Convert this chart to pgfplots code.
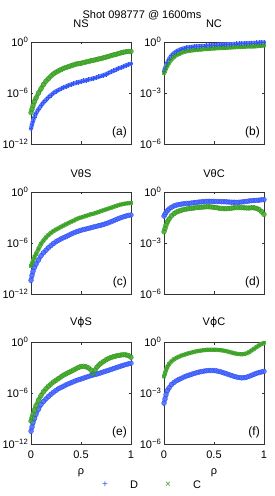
\documentclass[border=0pt]{standalone}
\usepackage{pgfplots}
\usepackage{pgfplotstable}
\pgfplotsset{compat=1.18}
\usepackage{fontspec}
\setmainfont{Liberation Sans}
\newfontfamily\dv{DejaVu Sans}
\definecolor{bD}{RGB}{50,85,250}
\definecolor{gC}{RGB}{50,158,25}

% log10 of the plotted quantities
\pgfplotstableread{
r D C
0 -10.2 -8.3
0.01 -9.7 -7.9
0.02 -9.3 -7.5
0.035 -8.8 -7.0
0.05 -8.4 -6.6
0.075 -7.9 -6.0
0.1 -7.5 -5.5
0.125 -7.1 -5.0
0.15 -6.8 -4.6
0.175 -6.5 -4.3
0.2 -6.25 -4.0
0.225 -6.0 -3.75
0.25 -5.8 -3.55
0.275 -5.65 -3.4
0.3 -5.5 -3.25
0.325 -5.35 -3.1
0.35 -5.25 -3.0
0.375 -5.1 -2.9
0.4 -5.0 -2.8
0.425 -4.9 -2.7
0.45 -4.8 -2.6
0.475 -4.72 -2.55
0.5 -4.65 -2.5
0.525 -4.57 -2.42
0.55 -4.5 -2.35
0.575 -4.43 -2.3
0.6 -4.35 -2.2
0.625 -4.27 -2.15
0.65 -4.2 -2.08
0.675 -4.1 -2.0
0.7 -4.0 -1.95
0.725 -3.9 -1.85
0.75 -3.8 -1.78
0.775 -3.65 -1.7
0.8 -3.5 -1.6
0.825 -3.4 -1.52
0.85 -3.25 -1.45
0.875 -3.1 -1.35
0.9 -3.0 -1.28
0.925 -2.9 -1.2
0.95 -2.75 -1.15
0.975 -2.65 -1.12
1 -2.55 -1.1
}\tA

\pgfplotstableread{
r D C
0 -1.73 -1.83
0.01 -1.55 -1.7
0.02 -1.4 -1.55
0.035 -1.2 -1.38
0.05 -1.0 -1.22
0.075 -0.8 -1.02
0.1 -0.65 -0.87
0.125 -0.55 -0.77
0.15 -0.47 -0.7
0.175 -0.41 -0.63
0.2 -0.37 -0.58
0.225 -0.33 -0.55
0.25 -0.31 -0.52
0.275 -0.29 -0.5
0.3 -0.27 -0.48
0.325 -0.26 -0.46
0.35 -0.25 -0.45
0.375 -0.24 -0.44
0.4 -0.23 -0.42
0.425 -0.22 -0.41
0.45 -0.21 -0.4
0.475 -0.2 -0.39
0.5 -0.19 -0.38
0.525 -0.18 -0.37
0.55 -0.17 -0.36
0.575 -0.165 -0.355
0.6 -0.16 -0.35
0.625 -0.15 -0.34
0.65 -0.14 -0.33
0.675 -0.13 -0.32
0.7 -0.12 -0.31
0.725 -0.11 -0.3
0.75 -0.1 -0.3
0.775 -0.09 -0.29
0.8 -0.085 -0.28
0.825 -0.075 -0.27
0.85 -0.07 -0.27
0.875 -0.06 -0.26
0.9 -0.055 -0.26
0.925 -0.05 -0.25
0.95 -0.04 -0.23
0.975 -0.03 -0.22
1 -0.02 -0.2
}\tB

\pgfplotstableread{
r D C
0 -10.4 -8.7
0.01 -9.8 -8.4
0.02 -9.35 -8.1
0.035 -8.85 -7.65
0.05 -8.5 -7.3
0.075 -8.0 -6.7
0.1 -7.5 -6.1
0.125 -7.15 -5.7
0.15 -6.85 -5.35
0.175 -6.55 -5.05
0.2 -6.3 -4.8
0.225 -6.05 -4.6
0.25 -5.85 -4.42
0.275 -5.68 -4.27
0.3 -5.52 -4.1
0.325 -5.38 -3.95
0.35 -5.25 -3.8
0.375 -5.1 -3.65
0.4 -4.95 -3.5
0.425 -4.82 -3.38
0.45 -4.7 -3.22
0.475 -4.6 -3.1
0.5 -4.5 -3.0
0.525 -4.42 -2.9
0.55 -4.35 -2.8
0.575 -4.28 -2.72
0.6 -4.2 -2.62
0.625 -4.12 -2.55
0.65 -4.05 -2.45
0.675 -3.97 -2.35
0.7 -3.9 -2.25
0.725 -3.82 -2.15
0.75 -3.72 -2.05
0.775 -3.62 -1.95
0.8 -3.5 -1.85
0.825 -3.38 -1.75
0.85 -3.25 -1.65
0.875 -3.12 -1.55
0.9 -3.02 -1.47
0.925 -2.92 -1.4
0.95 -2.83 -1.35
0.975 -2.75 -1.32
1 -2.7 -1.3
}\tC

\pgfplotstableread{
r D C
0 -1.42 -2.34
0.01 -1.3 -2.15
0.02 -1.2 -1.95
0.035 -1.1 -1.75
0.05 -1.0 -1.6
0.075 -0.9 -1.4
0.1 -0.82 -1.27
0.125 -0.77 -1.18
0.15 -0.74 -1.12
0.175 -0.71 -1.07
0.2 -0.69 -1.03
0.225 -0.67 -1.0
0.25 -0.66 -0.98
0.275 -0.65 -0.96
0.3 -0.63 -0.94
0.325 -0.61 -0.92
0.35 -0.59 -0.9
0.375 -0.58 -0.89
0.4 -0.56 -0.88
0.425 -0.55 -0.87
0.45 -0.55 -0.87
0.475 -0.55 -0.88
0.5 -0.55 -0.9
0.525 -0.56 -0.92
0.55 -0.56 -0.95
0.575 -0.57 -0.97
0.6 -0.57 -0.98
0.625 -0.58 -0.98
0.65 -0.59 -0.97
0.675 -0.6 -0.95
0.7 -0.6 -0.93
0.725 -0.61 -0.92
0.75 -0.6 -0.92
0.775 -0.59 -0.92
0.8 -0.57 -0.93
0.825 -0.55 -0.94
0.85 -0.53 -0.94
0.875 -0.51 -0.93
0.9 -0.5 -0.93
0.925 -0.49 -0.96
0.95 -0.48 -1.03
0.975 -0.46 -1.15
1 -0.45 -1.32
}\tD

\pgfplotstableread{
r D C
0 -10.5 -9.3
0.01 -10.0 -8.9
0.02 -9.5 -8.5
0.035 -9.0 -8.0
0.05 -8.5 -7.5
0.075 -7.9 -6.85
0.1 -7.35 -6.3
0.125 -7.0 -5.85
0.15 -6.7 -5.5
0.175 -6.4 -5.2
0.2 -6.15 -4.95
0.225 -5.9 -4.7
0.25 -5.7 -4.5
0.275 -5.5 -4.3
0.3 -5.35 -4.1
0.325 -5.2 -3.9
0.35 -5.05 -3.75
0.375 -4.92 -3.6
0.4 -4.8 -3.45
0.425 -4.68 -3.3
0.45 -4.55 -3.15
0.475 -4.45 -3.0
0.5 -4.35 -2.88
0.525 -4.25 -2.87
0.55 -4.15 -2.92
0.575 -4.05 -3.05
0.6 -3.95 -3.3
0.62 -3.88 -3.75
0.64 -3.82 -3.3
0.66 -3.76 -2.95
0.68 -3.7 -2.7
0.7 -3.62 -2.5
0.725 -3.52 -2.3
0.75 -3.42 -2.1
0.775 -3.33 -1.95
0.8 -3.23 -1.82
0.825 -3.13 -1.72
0.85 -3.03 -1.65
0.875 -2.93 -1.58
0.9 -2.83 -1.53
0.925 -2.73 -1.5
0.95 -2.65 -1.52
0.975 -2.57 -1.6
1 -2.5 -1.8
}\tE

\pgfplotstableread{
r D C
0 -3.6 -2.03
0.01 -3.35 -1.85
0.02 -3.1 -1.65
0.035 -2.85 -1.45
0.05 -2.7 -1.3
0.075 -2.5 -1.13
0.1 -2.38 -1.02
0.125 -2.28 -0.93
0.15 -2.2 -0.86
0.175 -2.13 -0.8
0.2 -2.06 -0.75
0.225 -2.0 -0.7
0.25 -1.95 -0.66
0.275 -1.9 -0.62
0.3 -1.85 -0.58
0.325 -1.81 -0.55
0.35 -1.77 -0.52
0.375 -1.74 -0.5
0.4 -1.71 -0.48
0.425 -1.69 -0.46
0.45 -1.68 -0.45
0.475 -1.68 -0.45
0.5 -1.68 -0.45
0.525 -1.7 -0.46
0.55 -1.73 -0.47
0.575 -1.77 -0.49
0.6 -1.82 -0.51
0.625 -1.87 -0.54
0.65 -1.92 -0.58
0.675 -1.97 -0.62
0.7 -2.02 -0.66
0.725 -2.06 -0.69
0.75 -2.09 -0.71
0.775 -2.11 -0.72
0.8 -2.1 -0.71
0.825 -2.07 -0.67
0.85 -2.02 -0.6
0.875 -1.96 -0.5
0.9 -1.9 -0.4
0.925 -1.84 -0.3
0.95 -1.8 -0.2
0.975 -1.76 -0.12
1 -1.73 -0.05
}\tF

\tikzset{plab/.style={anchor=south east, font=\fontsize{12}{14}\selectfont, inner sep=1pt}}

\pgfplotsset{
  panel/.style={scale only axis, width=100pt, height=102pt,
    xmin=0, xmax=1, xtick={0,0.5,1}, xticklabels={},
    tick align=inside, xtick pos=both, ytick pos=both,
    major tick length=2.5pt, minor tick num=0,
    axis line style={black!80}, tick style={black!80},
    ticklabel style={font=\fontsize{11}{13}\selectfont},
    yticklabel style={inner sep=2.5pt},
    xticklabel style={yshift=-3.5pt},
    title style={font=\fontsize{11}{13}\selectfont, yshift=4.5pt},
    clip=false,
    every axis plot/.append style={only marks, mark size=2.4pt, line width=0.5pt}},
  Sp/.style={panel, ymin=-12, ymax=0, ytick={-12,-6,0},
    yticklabels={10\textsuperscript{−12},10\textsuperscript{−6},10\textsuperscript{0}}},
  Cp/.style={panel, ymin=-6, ymax=0, ytick={-6,-3,0},
    yticklabels={10\textsuperscript{−6},10\textsuperscript{−3},10\textsuperscript{0}}},
  bot/.style={xticklabels={0,0.5,1}, xlabel={ρ},
    xlabel style={font=\fontsize{11}{13}\selectfont, yshift=-3pt}},
  bandB/.style={no marks, sharp plot, line join=round, line cap=round, line width=4.2pt, color=bD!78!white},
  bandG/.style={no marks, sharp plot, line join=round, line cap=round, line width=4.2pt, color=gC!80!white},
}

\begin{document}
\begin{tikzpicture}[x=1pt,y=1pt]
\path[use as bounding box] (0,0) rectangle (275,496);

\node[font=\fontsize{11}{13}\selectfont] at (142,481) {Shot 098777 @ 1600ms};

% (a)
\begin{axis}[Sp, at={(31pt,352pt)}, anchor=south west, title={NS}]
\addplot[bandB] table[x=r, y=D] {\tA};
\addplot[color=bD, mark=+] table[x=r, y=D] {\tA};
\addplot[bandG] table[x=r, y=C] {\tA};
\addplot[color=gC, mark=o] table[x=r, y=C] {\tA};
\node[plab] at (rel axis cs:0.97,0.05) {(a)};
\end{axis}

% (b)
\begin{axis}[Cp, at={(164pt,352pt)}, anchor=south west, title={NC}]
\addplot[bandB] table[x=r, y=D] {\tB};
\addplot[color=bD, mark=+] table[x=r, y=D] {\tB};
\addplot[bandG] table[x=r, y=C] {\tB};
\addplot[color=gC, mark=x] table[x=r, y=C] {\tB};
\node[plab] at (rel axis cs:0.97,0.05) {(b)};
\end{axis}

% (c)
\begin{axis}[Sp, at={(31pt,202pt)}, anchor=south west, title={VθS}]
\addplot[bandB] table[x=r, y=D] {\tC};
\addplot[color=bD, mark=o] table[x=r, y=D] {\tC};
\addplot[bandG] table[x=r, y=C] {\tC};
\addplot[color=gC, mark=x] table[x=r, y=C] {\tC};
\node[plab] at (rel axis cs:0.97,0.05) {(c)};
\end{axis}

% (d)
\begin{axis}[Cp, at={(164pt,202pt)}, anchor=south west, title={VθC}]
\addplot[bandB] table[x=r, y=D] {\tD};
\addplot[color=bD, mark=o] table[x=r, y=D] {\tD};
\addplot[bandG] table[x=r, y=C] {\tD};
\addplot[color=gC, mark=o] table[x=r, y=C] {\tD};
\node[plab] at (rel axis cs:0.97,0.05) {(d)};
\end{axis}

% (e)
\begin{axis}[Sp, bot, at={(31pt,52pt)}, anchor=south west, title={V{\dv ϕ}S}]
\addplot[bandB] table[x=r, y=D] {\tE};
\addplot[color=bD, mark=o] table[x=r, y=D] {\tE};
\addplot[bandG] table[x=r, y=C] {\tE};
\addplot[color=gC, mark=o] table[x=r, y=C] {\tE};
\node[plab] at (rel axis cs:0.97,0.05) {(e)};
\end{axis}

% (f)
\begin{axis}[Cp, bot, at={(164pt,52pt)}, anchor=south west, title={V{\dv ϕ}C}]
\addplot[bandB] table[x=r, y=D] {\tF};
\addplot[color=bD, mark=o] table[x=r, y=D] {\tF};
\addplot[bandG] table[x=r, y=C] {\tF};
\addplot[color=gC, mark=x] table[x=r, y=C] {\tF};
\node[plab] at (rel axis cs:0.97,0.05) {(f)};
\end{axis}

% legend
\node[text=bD, font=\fontsize{10}{12}\selectfont] at (105,11) {+};
\node[font=\fontsize{11}{13}\selectfont] at (134,11) {D};
\node[text=gC, font=\fontsize{10}{12}\selectfont] at (168,11) {×};
\node[font=\fontsize{11}{13}\selectfont] at (197,11) {C};
\end{tikzpicture}
\end{document}
